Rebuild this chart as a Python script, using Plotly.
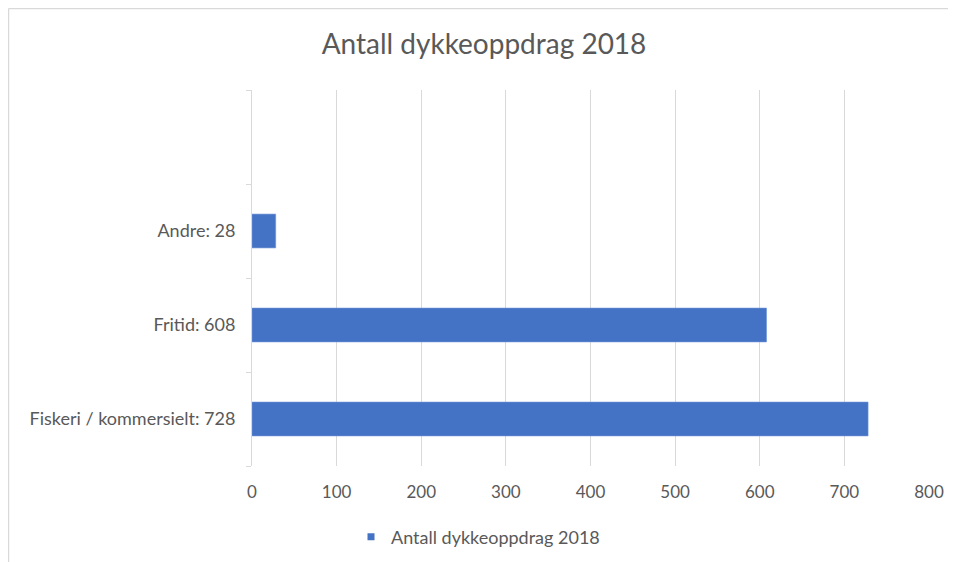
import plotly.graph_objects as go

# ---- data ----
categories = ["Fiskeri / kommersielt: 728", "Fritid: 608", "Andre: 28", " "]
values = [728, 608, 28, None]
series_name = "Antall dykkeoppdrag 2018"
title_text = "Antall dykkeoppdrag 2018"
x_ticks = [0, 100, 200, 300, 400, 500, 600, 700, 800]

# ---- layout constants (page body has an 8px margin) ----
OFF = 8
W, H = 956 - OFF, 562 - OFF
ML, MR, MT, MB = 252 - OFF, 27, 90 - OFF, 96
BAR_COLOR = "#4472C4"
GRID = "#d9d9d9"
TEXT = "#595959"
FONT = "Lato"

fig = go.Figure()
fig.add_trace(go.Bar(
    y=categories, x=values, orientation="h",
    marker=dict(color=BAR_COLOR, line=dict(color="#6f93d6", width=0.6)),
    name=series_name, showlegend=False,
))
# legend entry (small square marker)
fig.add_trace(go.Scatter(
    x=[None], y=[None], mode="markers", name=series_name,
    marker=dict(symbol="square", size=7, color=BAR_COLOR),
    showlegend=True,
))

pw = W - ML - MR
ph = H - MT - MB
bx = -ML / pw + 0.5 / pw      # chart border left in paper units
by = 1 + (MT - 0.5) / ph      # chart border top in paper units

fig.update_layout(
    width=W, height=H,
    margin=dict(l=ML, r=MR, t=MT, b=MB, pad=0, autoexpand=False),
    paper_bgcolor="white", plot_bgcolor="white",
    font=dict(family=FONT, color=TEXT, size=17),
    title=dict(text=title_text, x=(484 - OFF) / W, xanchor="center",
               y=1 - (44 - OFF) / H, yanchor="middle",
               font=dict(family=FONT, size=28, color=TEXT)),
    bargap=0.64,
    xaxis=dict(range=[0, 800], tickvals=x_ticks, showgrid=True, gridcolor=GRID,
               gridwidth=1, zeroline=False, showline=False, ticks="",
               tickfont=dict(size=17, color=TEXT), ticklabelstandoff=14,
               fixedrange=True, automargin=False),
    yaxis=dict(type="category", categoryorder="array", categoryarray=categories,
               range=[-0.5, 3.5], showline=True, linecolor=GRID, linewidth=1,
               ticks="outside", tickson="boundaries", ticklen=5, tickcolor=GRID,
               showgrid=False, zeroline=False,
               tickfont=dict(size=18, color=TEXT), ticklabelstandoff=12,
               fixedrange=True, automargin=False),
    legend=dict(orientation="h", xref="container", yref="container",
                x=(478 - OFF) / W, xanchor="center",
                y=1 - (537 - OFF) / H, yanchor="middle",
                font=dict(size=18, color=TEXT), itemwidth=30,
                bgcolor="rgba(0,0,0,0)"),
    shapes=[
        dict(type="line", xref="paper", yref="paper", x0=bx, x1=bx, y0=by, y1=-1,
             line=dict(color=GRID, width=1.5)),
        dict(type="line", xref="paper", yref="paper", x0=bx, x1=2, y0=by, y1=by,
             line=dict(color=GRID, width=1.5)),
    ],
)

fig.write_html("out.html")
